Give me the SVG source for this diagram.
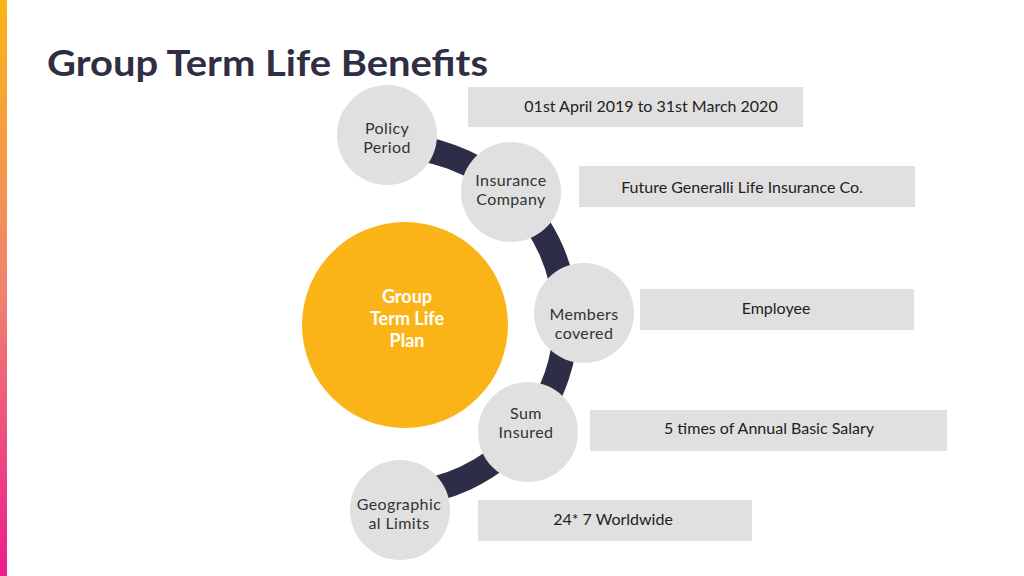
<svg xmlns="http://www.w3.org/2000/svg" width="1024" height="576" viewBox="0 0 1024 576">
<defs>
<linearGradient id="bar" x1="0" y1="0" x2="0" y2="1">
<stop offset="0" stop-color="#FBB417"/>
<stop offset="0.5" stop-color="#F0836F"/>
<stop offset="1" stop-color="#EC1C8E"/>
</linearGradient>
</defs>
<style>
.t{font-family:Lato,"Noto Sans","Liberation Sans",sans-serif;}
.node{fill:#E0E0E1;}
.box{fill:#E0E0E0;}
.ct{font-size:16px;fill:#333333;text-anchor:middle;letter-spacing:0.4px;}
.bt{font-size:16px;fill:#222222;text-anchor:middle;}
</style>
<rect width="1024" height="576" fill="#FFFFFF"/>
<rect x="0" y="0" width="7" height="576" fill="url(#bar)"/>
<text class="t" x="47" y="76" font-size="37" font-weight="bold" fill="#2F2E45" textLength="441" lengthAdjust="spacingAndGlyphs">Group Term Life Benefits</text>
<g id="connectors">
<path d="M 387.9 146.4 A 174 174 0 0 1 403 494" fill="none" stroke="#2E2D48" stroke-width="25"/>
</g>
<g id="center">
<circle cx="405" cy="325" r="103" fill="#FBB417"/>
<text class="t" x="407" y="303" font-size="18" font-weight="bold" fill="#FFFFFF" text-anchor="middle">Group</text>
<text class="t" x="407" y="325" font-size="18" font-weight="bold" fill="#FFFFFF" text-anchor="middle">Term Life</text>
<text class="t" x="407" y="347" font-size="18" font-weight="bold" fill="#FFFFFF" text-anchor="middle">Plan</text>
</g>
<g id="policy">
<circle class="node" cx="387" cy="135" r="50"/>
<text class="t ct" x="387" y="134">Policy</text>
<text class="t ct" x="387" y="153">Period</text>
</g>
<g id="insurance">
<circle class="node" cx="511" cy="192" r="50"/>
<text class="t ct" x="511" y="186">Insurance</text>
<text class="t ct" x="511" y="205">Company</text>
</g>
<g id="members">
<circle class="node" cx="584" cy="313" r="50"/>
<text class="t ct" x="584" y="320">Members</text>
<text class="t ct" x="584" y="339">covered</text>
</g>
<g id="sum">
<circle class="node" cx="528" cy="432" r="50"/>
<text class="t ct" x="526" y="419">Sum</text>
<text class="t ct" x="526" y="438">Insured</text>
</g>
<g id="geo">
<circle class="node" cx="400" cy="510" r="50"/>
<text class="t ct" x="399" y="510">Geographic</text>
<text class="t ct" x="399" y="529">al Limits</text>
</g>
<g id="box-period">
<rect class="box" x="468" y="87" width="335" height="40"/>
<text class="t bt" x="651" y="112">01st April 2019 to 31st March 2020</text>
</g>
<g id="box-company">
<rect class="box" x="579" y="166" width="336" height="41"/>
<text class="t bt" x="742" y="193">Future Generalli Life Insurance Co.</text>
</g>
<g id="box-members">
<rect class="box" x="640" y="289" width="274" height="41"/>
<text class="t bt" x="776" y="314">Employee</text>
</g>
<g id="box-sum">
<rect class="box" x="590" y="410" width="357" height="41"/>
<text class="t bt" x="769" y="434">5 times of Annual Basic Salary</text>
</g>
<g id="box-geo">
<rect class="box" x="478" y="500" width="274" height="41"/>
<text class="t bt" x="613" y="525">24* 7 Worldwide</text>
</g>
</svg>
